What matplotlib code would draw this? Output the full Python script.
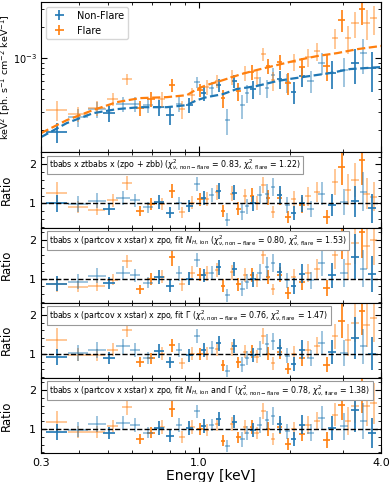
import numpy as np
import matplotlib.pyplot as plt
from matplotlib.ticker import NullFormatter, MultipleLocator, FixedLocator

# ---- non-flare spectrum, two data groups (dark / light)
nf_a_e = [0.339, 0.504, 0.737, 0.802, 0.930, 1.035, 1.160, 1.310, 1.510, 1.850, 2.060, 2.190, 2.760, 3.280, 3.740]
nf_a_w = [0.027, 0.022, 0.027, 0.025, 0.022, 0.020, 0.020, 0.025, 0.030, 0.035, 0.040, 0.050, 0.080, 0.100, 0.120]
nf_a_f = [0.191, 0.292, 0.334, 0.280, 0.350, 0.457, 0.547, 0.598, 0.500, 0.625, 0.468, 0.669, 0.715, 0.894, 0.800]
nf_a_err = [0.22, 0.18, 0.17, 0.19, 0.17, 0.16, 0.15, 0.15, 0.19, 0.19, 0.24, 0.22, 0.30, 0.38, 0.42]
nf_a_r1 = [1.00, 0.86, 1.04, 0.76, 0.93, 1.13, 1.32, 1.27, 1.00, 1.21, 0.75, 1.00, 0.96, 1.05, 0.87]
nf_a_r2 = [0.87, 0.89, 1.04, 0.82, 0.99, 1.08, 1.29, 1.24, 0.98, 1.18, 0.81, 1.12, 1.08, 1.56, 1.12]
nf_a_r3 = [0.91, 0.89, 1.06, 0.78, 0.96, 1.10, 1.27, 1.20, 0.96, 1.15, 0.74, 1.10, 1.05, 1.40, 1.00]
nf_a_r4 = [0.92, 0.90, 1.03, 0.81, 1.03, 1.08, 1.25, 1.19, 0.97, 1.12, 0.74, 1.11, 1.03, 1.49, 0.90]

nf_b_e = [0.398, 0.460, 0.560, 0.614, 0.677, 0.858, 0.984, 1.100, 1.240, 1.390, 1.440, 1.590, 1.680, 1.760, 1.960, 2.340, 2.550, 3.020, 3.500]
nf_b_w = [0.030, 0.032, 0.029, 0.022, 0.025, 0.020, 0.025, 0.020, 0.025, 0.025, 0.025, 0.030, 0.030, 0.030, 0.040, 0.060, 0.070, 0.090, 0.100]
nf_b_f = [0.267, 0.320, 0.358, 0.358, 0.350, 0.358, 0.580, 0.511, 0.250, 0.350, 0.457, 0.547, 0.511, 0.684, 0.585, 0.598, 0.894, 0.765, 1.120]
nf_b_err = [0.20, 0.18, 0.16, 0.16, 0.16, 0.16, 0.12, 0.15, 0.28, 0.26, 0.20, 0.19, 0.20, 0.17, 0.21, 0.24, 0.24, 0.32, 0.38]
nf_b_r1 = [0.98, 1.07, 1.14, 1.08, 0.90, 1.00, 1.49, 1.21, 0.58, 0.79, 0.92, 1.21, 1.25, 1.42, 0.96, 0.85, 1.25, 1.04, 1.30]
nf_b_r2 = [0.92, 1.07, 1.14, 1.08, 0.89, 1.13, 1.48, 1.15, 0.57, 0.74, 0.92, 1.15, 1.29, 1.40, 0.95, 0.95, 1.41, 1.14, 1.25]
nf_b_r3 = [1.01, 1.10, 1.19, 1.10, 0.89, 1.09, 1.46, 1.15, 0.55, 0.72, 0.90, 1.12, 1.25, 1.32, 0.95, 0.89, 1.27, 1.02, 1.19]
nf_b_r4 = [0.98, 1.13, 1.15, 1.11, 0.90, 1.11, 1.45, 1.10, 0.56, 0.73, 0.90, 1.10, 1.22, 1.33, 0.94, 0.90, 1.28, 1.07, 1.20]

# ---- flare spectrum
fl_a_e = [0.638, 0.693, 0.814, 1.007, 1.200, 1.350, 1.500, 1.690, 1.850, 1.970, 2.190, 2.650, 2.970, 3.460]
fl_a_w = [0.020, 0.020, 0.020, 0.020, 0.020, 0.025, 0.025, 0.030, 0.035, 0.040, 0.050, 0.070, 0.080, 0.090]
fl_a_f = [0.330, 0.400, 0.547, 0.489, 0.409, 0.478, 0.731, 0.836, 0.915, 0.572, 0.818, 0.836, 2.340, 3.000]
fl_a_err = [0.17, 0.16, 0.14, 0.15, 0.19, 0.19, 0.16, 0.17, 0.17, 0.24, 0.22, 0.28, 0.24, 0.30]
fl_a_r1 = [0.80, 0.98, 1.32, 1.10, 0.80, 0.86, 1.20, 1.15, 1.15, 0.64, 0.95, 0.64, 1.93, 2.10]
fl_a_r2 = [0.72, 0.98, 1.55, 1.10, 0.82, 0.85, 1.10, 1.05, 1.10, 0.64, 0.90, 0.75, 1.98, 2.20]
fl_a_r3 = [0.78, 0.88, 1.22, 1.00, 0.70, 0.78, 1.05, 1.00, 1.05, 0.62, 0.88, 0.72, 1.85, 2.10]
fl_a_r4 = [0.75, 0.90, 1.52, 1.00, 0.70, 0.78, 1.05, 1.00, 1.05, 0.62, 0.88, 0.72, 1.62, 2.00]

fl_b_e = [0.339, 0.398, 0.460, 0.519, 0.578, 0.754, 0.878, 0.948, 1.060, 1.150, 1.290, 1.420, 1.550, 1.630, 1.760, 2.060, 2.290, 2.460, 2.820, 3.110, 3.280, 3.590, 3.790]
fl_b_w = [0.027, 0.030, 0.030, 0.022, 0.020, 0.020, 0.020, 0.020, 0.020, 0.020, 0.025, 0.025, 0.025, 0.030, 0.030, 0.040, 0.050, 0.060, 0.070, 0.080, 0.090, 0.100, 0.100]
fl_b_f = [0.313, 0.286, 0.327, 0.400, 0.625, 0.400, 0.320, 0.437, 0.523, 0.598, 0.654, 0.715, 0.640, 1.090, 0.611, 0.915, 1.020, 1.170, 1.560, 1.560, 2.190, 2.190, 2.440]
fl_b_err = [0.22, 0.17, 0.16, 0.15, 0.12, 0.16, 0.19, 0.16, 0.16, 0.15, 0.16, 0.16, 0.18, 0.14, 0.21, 0.19, 0.20, 0.20, 0.22, 0.30, 0.28, 0.32, 0.32]
fl_b_r1 = [1.27, 0.90, 0.84, 1.08, 1.52, 0.98, 0.77, 1.02, 1.12, 1.28, 1.25, 1.18, 1.00, 1.48, 0.78, 1.10, 1.18, 1.28, 1.55, 1.35, 1.60, 1.25, 1.17]
fl_b_r2 = [0.85, 0.79, 0.82, 0.97, 1.44, 1.05, 0.85, 1.14, 1.13, 1.22, 1.16, 1.10, 0.95, 1.60, 0.72, 1.05, 1.15, 1.25, 1.60, 1.38, 1.90, 1.83, 1.98]
fl_b_r3 = [1.36, 0.97, 0.97, 1.10, 1.62, 1.00, 0.75, 1.00, 1.00, 1.12, 1.12, 1.05, 0.92, 1.45, 0.75, 1.00, 1.10, 1.20, 1.45, 1.36, 1.80, 1.74, 1.91]
fl_b_r4 = [1.19, 0.92, 0.92, 1.07, 1.55, 1.05, 0.80, 1.05, 0.98, 1.12, 1.12, 1.05, 0.90, 1.45, 0.73, 1.00, 1.10, 1.20, 1.37, 1.20, 1.60, 1.58, 1.66]

# ---- best-fit models (tbabs x ztbabs x (zpo + zbb))
mod_e = [0.30, 0.365, 0.446, 0.535, 0.638, 0.783, 0.912, 0.984, 1.06, 1.20, 1.33, 1.55, 1.81, 1.98, 2.32, 2.71, 3.16, 4.0]
mod_nf = [0.171, 0.234, 0.292, 0.320, 0.334, 0.334, 0.350, 0.391, 0.418, 0.447, 0.500, 0.535, 0.598, 0.625, 0.669, 0.715, 0.782, 0.818]
mod_fl_e = [0.30, 0.365, 0.446, 0.535, 0.638, 0.783, 0.912, 0.984, 1.06, 1.20, 1.38, 1.55, 1.81, 2.12, 2.46, 2.87, 3.34, 4.0]
mod_fl = [0.187, 0.250, 0.313, 0.374, 0.409, 0.418, 0.437, 0.500, 0.547, 0.611, 0.699, 0.765, 0.855, 0.956, 1.046, 1.118, 1.22, 1.31]

fit_labels = [
    r"tbabs x ztbabs x (zpo + zbb) ($\chi^2_{\nu,\,\mathrm{non-flare}}$ = 0.83, $\chi^2_{\nu,\,\mathrm{flare}}$ = 1.22)",
    r"tbabs x (partcov x xstar) x zpo, fit $N_{H,\,\mathrm{ion}}$ ($\chi^2_{\nu,\,\mathrm{non-flare}}$ = 0.80, $\chi^2_{\nu,\,\mathrm{flare}}$ = 1.53)",
    r"tbabs x (partcov x xstar) x zpo, fit $\Gamma$ ($\chi^2_{\nu,\,\mathrm{non-flare}}$ = 0.76, $\chi^2_{\nu,\,\mathrm{flare}}$ = 1.47)",
    r"tbabs x (partcov x xstar) x zpo, fit $N_{H,\,\mathrm{ion}}$ and $\Gamma$ ($\chi^2_{\nu,\,\mathrm{non-flare}}$ = 0.78, $\chi^2_{\nu,\,\mathrm{flare}}$ = 1.38)",
]

blue = "#1f77b4"
orange = "#ff7f0e"
light = 0.5

fig = plt.figure(figsize=(3.9, 4.82), dpi=100)
gs = fig.add_gridspec(5, 1, height_ratios=[2, 1, 1, 1, 1], hspace=0,
                      left=0.105, right=0.977, top=0.996, bottom=0.06)
axes = [fig.add_subplot(gs[0])]
for i in range(1, 5):
    axes.append(fig.add_subplot(gs[i], sharex=axes[0]))


def ebar(ax, e, w, y, err, c, a, label=None):
    y = np.array(y)
    ax.errorbar(e, y, xerr=w, yerr=y * np.array(err), fmt="none", ecolor=c,
                elinewidth=1.2, alpha=a, label=label)


# top panel: unfolded spectra
ax = axes[0]
s = 1e-3
ebar(ax, nf_a_e, nf_a_w, np.array(nf_a_f) * s, nf_a_err, blue, 1.0, "Non-Flare")
ebar(ax, nf_b_e, nf_b_w, np.array(nf_b_f) * s, nf_b_err, blue, light)
ebar(ax, fl_a_e, fl_a_w, np.array(fl_a_f) * s, fl_a_err, orange, 1.0, "Flare")
ebar(ax, fl_b_e, fl_b_w, np.array(fl_b_f) * s, fl_b_err, orange, light)
ax.plot(mod_e, np.array(mod_nf) * s, ls="--", color=blue, lw=1.6)
ax.plot(mod_fl_e, np.array(mod_fl) * s, ls="--", color=orange, lw=1.6)
ax.set_yscale("log")
ax.set_ylim(1.22e-4, 3.5e-3)
ax.yaxis.set_minor_formatter(NullFormatter())
ax.set_ylabel(r"keV$^2$ [ph. s$^{-1}$ cm$^{-2}$ keV$^{-1}$]", fontsize=6.8)
ax.legend(loc="upper left", fontsize=7)

# ratio panels
ratios = [
    (nf_a_r1, nf_b_r1, fl_a_r1, fl_b_r1),
    (nf_a_r2, nf_b_r2, fl_a_r2, fl_b_r2),
    (nf_a_r3, nf_b_r3, fl_a_r3, fl_b_r3),
    (nf_a_r4, nf_b_r4, fl_a_r4, fl_b_r4),
]
for ax, (ra, rb, fa, fb), txt in zip(axes[1:], ratios, fit_labels):
    ebar(ax, fl_a_e, fl_a_w, fa, fl_a_err, orange, 1.0)
    ebar(ax, fl_b_e, fl_b_w, fb, fl_b_err, orange, light)
    ebar(ax, nf_a_e, nf_a_w, ra, nf_a_err, blue, 1.0)
    ebar(ax, nf_b_e, nf_b_w, rb, nf_b_err, blue, light)
    ax.axhline(1, color="k", ls="--", lw=1.0, zorder=5)
    ax.set_ylim(0.38, 2.31)
    ax.set_yticks([1, 2])
    ax.set_yticklabels(["1", "2"])
    ax.yaxis.set_minor_locator(MultipleLocator(0.2))
    ax.set_ylabel("Ratio", fontsize=8.5)
    ax.text(0.025, 0.83, txt, transform=ax.transAxes, fontsize=5.7, va="center",
            bbox=dict(boxstyle="square,pad=0.25", fc="white", ec="0.6", lw=0.8), zorder=10)

for ax in axes:
    ax.set_xscale("log")
    ax.tick_params(which="both", direction="in", top=True, right=True, labelsize=8)
    ax.tick_params(which="major", length=4)
    ax.tick_params(which="minor", length=2)
    ax.yaxis.set_label_coords(-0.082, 0.5)
for ax in axes[:-1]:
    ax.tick_params(labelbottom=False)
axes[0].tick_params(axis="y", labelsize=7, pad=3)

axes[-1].set_xlim(0.3, 4.0)
axes[-1].xaxis.set_major_locator(FixedLocator([0.3, 1.0, 4.0]))
axes[-1].set_xticklabels(["0.3", "1.0", "4.0"])
axes[-1].xaxis.set_minor_formatter(NullFormatter())
axes[-1].set_xlabel("Energy [keV]", fontsize=10, labelpad=1)

plt.savefig("out.png", dpi=100)
